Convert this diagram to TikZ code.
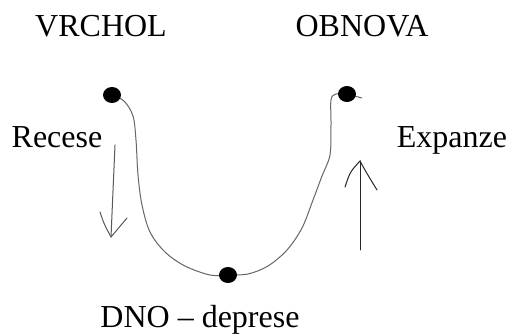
\documentclass[tikz,border=0pt]{standalone}
\usepackage{fontspec}
\setmainfont{Liberation Serif}
\usetikzlibrary{shapes.geometric}
\begin{document}
\begin{tikzpicture}[x=1pt,y=-1pt,
  lbl/.style={anchor=base,inner sep=0pt,font=\fontsize{32}{38}\selectfont},
  dotmark/.style={ellipse,fill=black,minimum width=18pt,minimum height=16pt,inner sep=0pt},
  curveline/.style={draw=black!60,line width=1pt},
  arrline/.style={line width=1pt,line cap=round}]
\useasboundingbox (0,0) rectangle (507,336);
\node[lbl] (vrchol) at (101,37) {VRCHOL};
\node[lbl] (obnova) at (362,37) {OBNOVA};
\node[lbl] (recese) at (57,148) {Recese};
\node[lbl] (expanze) at (452,148) {Expanze};
\node[lbl] (dno) at (200,328) {DNO -- deprese};
\coordinate (L) at (112,95);
\coordinate (R) at (347,94);
\coordinate (B) at (228,275);
\draw[curveline] plot[smooth,tension=0.55] coordinates {(L) (124,101) (133,116) (136,140) (138,175) (142,205) (150,232) (165,252) (185,266) (210,275) (B)};
\draw[curveline] plot[smooth,tension=0.55] coordinates {(B) (248,274) (268,266) (287,250) (302,228) (313,200) (322,176) (330,155) (331,125) (331,100) (336,94) (R)};
\coordinate (Rt) at (362,98);
\draw[curveline] (R) -- (Rt);
\node[dotmark] (dl) at (L) {};
\node[dotmark] (dr) at (R) {};
\node[dotmark] (db) at (B) {};
% left arrow (Recese)
\coordinate (la0) at (115,145);
\coordinate (la1) at (111,237);
\coordinate (lh1) at (100,212);
\coordinate (lh2) at (127,218);
\draw[arrline,draw=black!65] (la0) -- (la1);
\draw[arrline,draw=black!65] (lh1) .. controls (104,224) .. (la1) -- (lh2);
% right arrow (Expanze)
\coordinate (ra0) at (360,250);
\coordinate (ra1) at (360,161);
\coordinate (rh1) at (345,187);
\coordinate (rh2) at (377,190);
\draw[arrline,draw=black!85] (ra0) -- (ra1);
\draw[arrline,draw=black!85] (rh1) .. controls (350,172) .. (ra1) .. controls (366,172) .. (rh2);
\end{tikzpicture}
\end{document}
